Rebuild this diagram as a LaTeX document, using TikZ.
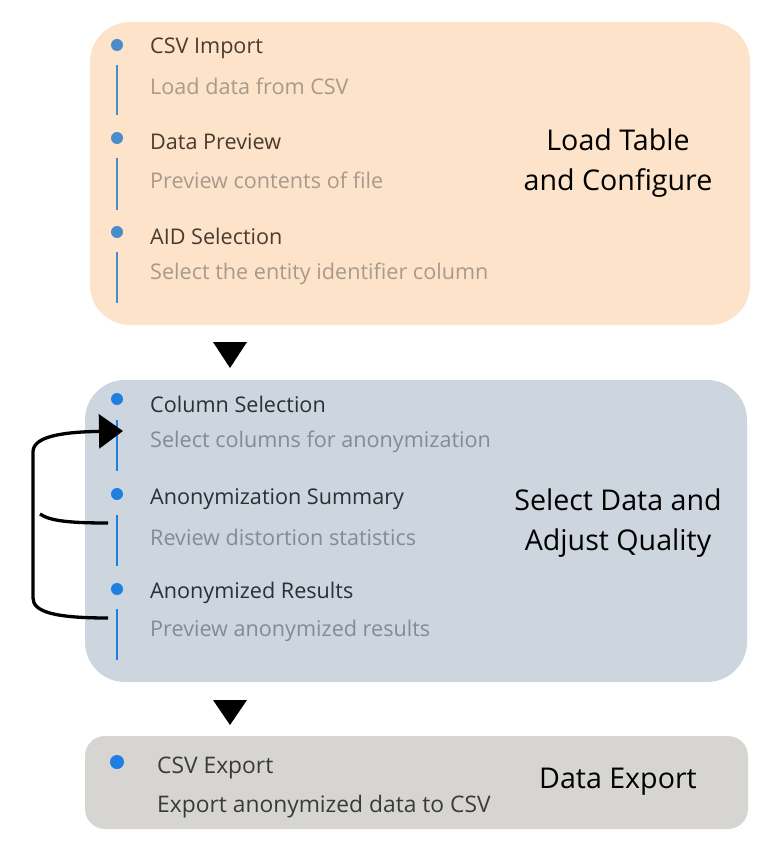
\documentclass[tikz,border=0pt]{standalone}
\usepackage{fontspec}
\setmainfont{Open Sans}
\usetikzlibrary{arrows.meta}
\definecolor{peach}{HTML}{FCE3CA}
\definecolor{bluegray}{HTML}{CDD5DE}
\definecolor{lgray}{HTML}{D6D5D1}
\definecolor{bulA}{HTML}{4A8BCC}
\definecolor{bulB}{HTML}{1E7FE0}
\definecolor{titA}{HTML}{4A3B2F}
\definecolor{subA}{HTML}{A89A8C}
\definecolor{titB}{HTML}{2B2F36}
\definecolor{subB}{HTML}{858B94}
\definecolor{subC}{HTML}{3A3A3A}
\tikzset{
  stagebox/.style={draw=none, rounded corners=#1, inner sep=0pt},
  titleA/.style={anchor=west, inner sep=0pt, yshift=-2pt, text=titA, font=\fontsize{21.6}{24}\selectfont},
  subA/.style={anchor=west, inner sep=0pt, yshift=-2pt, text=subA, font=\fontsize{21.6}{24}\selectfont},
  titleB/.style={anchor=west, inner sep=0pt, yshift=-2pt, text=titB, font=\fontsize{21.6}{24}\selectfont},
  subB/.style={anchor=west, inner sep=0pt, yshift=-2pt, text=subB, font=\fontsize{21.6}{24}\selectfont},
  subC/.style={anchor=west, inner sep=0pt, yshift=-2pt, text=subC, font=\fontsize{22.8}{26}\selectfont},
  biglabel/.style={align=center, inner sep=0pt, yshift=-3pt, text=black, font=\fontsize{28.6}{40}\selectfont},
  bulletA/.style={circle, fill=bulA, inner sep=0pt, minimum size=12pt},
  bulletB/.style={circle, fill=bulB, inner sep=0pt, minimum size=12pt},
  railA/.style={draw=bulA, line width=1.3pt},
  railB/.style={draw=bulB, line width=1.3pt},
  loopline/.style={draw=black, line width=3.3pt},
}
\begin{document}
\begin{tikzpicture}[x=1pt,y=-1pt]
\useasboundingbox (0,0) rectangle (774,850);
% boxes
\node[stagebox=40pt, fill=peach, minimum width=660pt, minimum height=303pt] (b1) at (420,173.5) {};
\node[stagebox=40pt, fill=bluegray, minimum width=662pt, minimum height=302pt] (b2) at (416,531) {};
\node[stagebox=20pt, fill=lgray, minimum width=663pt, minimum height=93pt] (b3) at (416.5,782.5) {};
% arrows between boxes
\fill (213,342) -- (247,342) -- (230,368) -- cycle;
\fill (213,700) -- (247,700) -- (230,725) -- cycle;
% box 1
\node[bulletA] (d1) at (117,45) {};
\node[bulletA] (d2) at (117,138) {};
\node[bulletA] (d3) at (117,232) {};
\draw[railA] (117,65) -- (117,115);
\draw[railA] (117,158) -- (117,210);
\draw[railA] (117,252) -- (117,303);
\node[titleA] (t1) at (150,46) {CSV Import};
\node[subA] (s1) at (150,84) {Load data from CSV};
\node[titleA] (t2) at (150,140) {Data Preview};
\node[subA] (s2) at (150,178) {Preview contents of file};
\node[titleA] (t3) at (150,234) {AID Selection};
\node[subA] (s3) at (150,272) {Select the entity identifier column};
\node[biglabel] (L1) at (618,160) {Load Table\\and Configure};
% box 2
\node[bulletB] (e1) at (117,399) {};
\node[bulletB] (e2) at (117,494) {};
\node[bulletB] (e3) at (117,589) {};
\draw[railB] (117,420) -- (117,471);
\draw[railB] (117,515) -- (117,566);
\draw[railB] (117,609) -- (117,660);
\node[titleB] (u1) at (150,402) {Column Selection};
\node[subB] (v1) at (150,440) {Select columns for anonymization};
\node[titleB] (u2) at (150,497) {Anonymization Summary};
\node[subB] (v2) at (150,535) {Review distortion statistics};
\node[titleB] (u3) at (150,591) {Anonymized Results};
\node[subB] (v3) at (150,629) {Preview anonymized results};
\node[biglabel] (L2) at (618,520) {Select Data and\\Adjust Quality};
% loop connectors
\coordinate (r2) at (108,523);
\coordinate (r3) at (108,618);
\coordinate (tgt) at (123,431);
\draw[loopline, -{Triangle[length=24pt,width=34pt]}] (r3) .. controls (55,618) and (33,612) .. (33,598) -- (33,452) .. controls (33,437) and (60,432) .. (tgt);
\draw[loopline] (r2) .. controls (70,523) and (50,521) .. (40,514);
% box 3
\node[bulletB, minimum size=14pt] (f1) at (117,762) {};
\node[subC] (w1) at (157,766) {CSV Export};
\node[subC] (x1) at (157,805) {Export anonymized data to CSV};
\node[biglabel] (L3) at (618,779) {Data Export};
\end{tikzpicture}
\end{document}
